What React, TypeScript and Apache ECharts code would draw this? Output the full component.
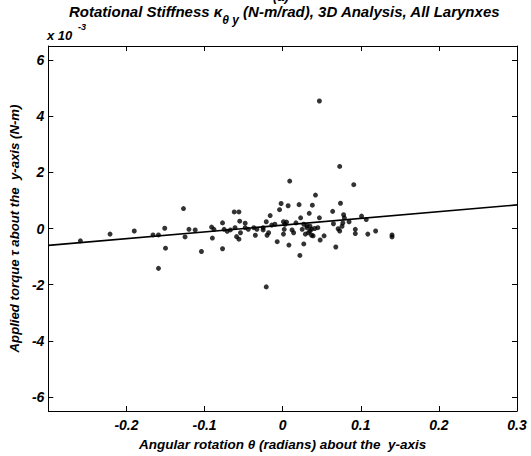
import React, { useEffect, useRef } from "react";
import * as echarts from "echarts";

// Angular rotation θ (radians)
const rotation = [
  0.047, 0.073, 0.091, 0.009, 0.042, -0.127, -0.002, 0.007, 0.021, 0.038,
  0.074, -0.004, 0.064, 0.034, -0.062, -0.056, -0.016, 0.078, 0.079, -0.19,
  -0.151, -0.166, -0.159, -0.12, -0.112, -0.125, -0.091, -0.088, -0.077, -0.09,
  -0.15, -0.104, -0.077, -0.159, -0.075, -0.071, -0.067, -0.061, -0.055, -0.048,
  -0.059, -0.056, -0.054, -0.044, -0.048, -0.037, -0.033, -0.035, -0.021, -0.02,
  -0.025, -0.025, -0.018, -0.014, -0.01, -0.007, 0.001, 0.003, 0.005, 0.002,
  0.001, 0.008, 0.012, 0.014, 0.017, 0.023, 0.025, 0.027, 0.027, 0.022,
  0.031, 0.035, 0.031, 0.035, 0.037, 0.029, 0.033, 0.037, 0.041, 0.045,
  0.047, 0.048, 0.053, 0.068, 0.065, 0.071, 0.073, 0.076, 0.077, 0.085,
  0.093, 0.093, 0.101, 0.107, 0.109, 0.119, 0.14, 0.14, -0.021, -0.221,
  -0.259, 0.039,
];
// Applied torque τ (x 10^-3 N-m)
const torque = [
  4.54, 2.21, 1.56, 1.69, 1.19, 0.71, 0.89, 0.81, 0.85, 0.83,
  0.9, 0.67, 0.61, 0.54, 0.59, 0.59, 0.46, 0.49, 0.38, -0.09,
  0.01, -0.23, -0.23, -0.03, -0.05, -0.3, 0.05, -0.03, 0.2, -0.34,
  -0.7, -0.82, -0.72, -1.42, -0.03, -0.1, -0.05, 0.03, 0.26, 0.19,
  -0.29, -0.38, -0.15, -0.03, 0.03, 0.03, -0.03, -0.24, 0.24, -0.24,
  -0.05, 0.03, -0.15, 0.12, 0.15, -0.47, 0.24, 0.15, 0.23, -0.03,
  -0.2, -0.59, -0.05, -0.15, 0.2, 0.38, -0.03, 0.15, -0.55, -0.96,
  0.1, 0.08, 0.03, -0.09, -0.02, -0.2, -0.15, -0.24, 0.0, 0.03,
  0.38, -0.41, -0.26, -0.66, 0.17, -0.01, -0.09, 0.08, 0.2, 0.24,
  -0.03, -0.18, 0.44, 0.32, -0.2, -0.09, -0.23, -0.3, -2.08, -0.2,
  -0.44, -0.26,
];
// Least-squares fit line end points
const fitX = [-0.3, 0.3];
const fitY = [-0.6, 0.84];

const xTickLabels = [-0.2, -0.1, 0, 0.1, 0.2, 0.3];
const xTicks = [-0.2, -0.1, 0, 0.1, 0.2];
const yTickLabels = [-6, -4, -2, 0, 2, 4, 6];

const FONT = "'Liberation Sans', Arial, Helvetica, sans-serif";

export default function App() {
  const ref = useRef<HTMLDivElement>(null);
  useEffect(() => {
    if (!ref.current) return;
    const chart = echarts.init(ref.current, undefined, { renderer: "svg" });
    const labelStyle = {
      color: "#000",
      fontFamily: FONT,
      fontStyle: "italic",
      fontWeight: "bold",
      fontSize: 14,
    } as const;
    const axisLine = { show: true, onZero: false, lineStyle: { color: "#000", width: 1 } };
    const fmtX = (v: number) => String(Math.round(v * 10) / 10);
    const fmtY = (v: number) => String(Math.round(v));
    chart.setOption({
      animation: false,
      backgroundColor: "#fff",
      grid: { left: 48, right: 14, top: 46, bottom: 37 },
      graphic: [
        {
          type: "text",
          left: 273,
          top: -10,
          style: { text: "(a)", font: `italic bold 13px ${FONT}`, fill: "#000" },
        },
        {
          type: "text",
          left: 69,
          top: 4,
          style: {
            text: "{a|Rotational Stiffness κ}{s|θ y}{a| (N-m/rad), 3D Analysis, All Larynxes}",
            fill: "#000",
            rich: {
              a: { fontFamily: FONT, fontStyle: "italic", fontWeight: "bold", fontSize: 15, lineHeight: 22, verticalAlign: "top", fill: "#000" },
              s: { fontFamily: FONT, fontStyle: "italic", fontWeight: "bold", fontSize: 12, lineHeight: 22, verticalAlign: "bottom", fill: "#000" },
            },
          },
        },
        {
          type: "text",
          left: 47,
          top: 29,
          style: { text: "x 10", font: `italic bold 13px ${FONT}`, fill: "#000" },
        },
        {
          type: "text",
          left: 78,
          top: 22,
          style: { text: "-3", font: `italic bold 9px ${FONT}`, fill: "#000" },
        },
      ],
      xAxis: [
        {
          type: "value",
          min: -0.3,
          max: 0.3,
          position: "bottom",
          axisLine,
          splitLine: { show: false },
          axisTick: { show: true, inside: true, length: 5, customValues: xTicks, lineStyle: { color: "#000" } },
          axisLabel: { ...labelStyle, margin: 7, customValues: xTickLabels, formatter: fmtX },
          name: "Angular rotation θ (radians) about the  y-axis",
          nameLocation: "middle",
          nameGap: 26,
          nameTextStyle: { color: "#000", fontFamily: FONT, fontStyle: "italic", fontWeight: "bold", fontSize: 13.5 },
        },
        {
          type: "value",
          min: -0.3,
          max: 0.3,
          position: "top",
          axisLine,
          splitLine: { show: false },
          axisTick: { show: true, inside: true, length: 5, customValues: xTicks, lineStyle: { color: "#000" } },
          axisLabel: { show: false },
        },
      ],
      yAxis: [
        {
          type: "value",
          min: -6.5,
          max: 6.5,
          position: "left",
          axisLine,
          splitLine: { show: false },
          axisTick: { show: true, inside: true, length: 5, customValues: yTickLabels, lineStyle: { color: "#000" } },
          axisLabel: { ...labelStyle, margin: 4, customValues: yTickLabels, formatter: fmtY },
          name: "Applied torque τ about the  y-axis (N-m)",
          nameLocation: "middle",
          nameGap: 20,
          nameRotate: 90,
          nameTextStyle: { color: "#000", fontFamily: FONT, fontStyle: "italic", fontWeight: "bold", fontSize: 13.2 },
        },
        {
          type: "value",
          min: -6.5,
          max: 6.5,
          position: "right",
          axisLine,
          splitLine: { show: false },
          axisTick: { show: true, inside: true, length: 5, customValues: yTickLabels, lineStyle: { color: "#000" } },
          axisLabel: { show: false },
        },
      ],
      series: [
        {
          type: "scatter",
          xAxisIndex: 0,
          yAxisIndex: 0,
          symbol: "circle",
          symbolSize: 5,
          itemStyle: { color: "#000" },
          data: rotation.map((x, i) => [x, torque[i]]),
        },
        {
          type: "line",
          xAxisIndex: 0,
          yAxisIndex: 0,
          symbol: "none",
          lineStyle: { color: "#000", width: 1.6 },
          data: fitX.map((x, i) => [x, fitY[i]]),
        },
      ],
    });
    return () => chart.dispose();
  }, []);
  return (
    <div
      ref={ref}
      style={{ position: "fixed", left: 0, top: 0, width: 531, height: 456, background: "#fff" }}
    />
  );
}
